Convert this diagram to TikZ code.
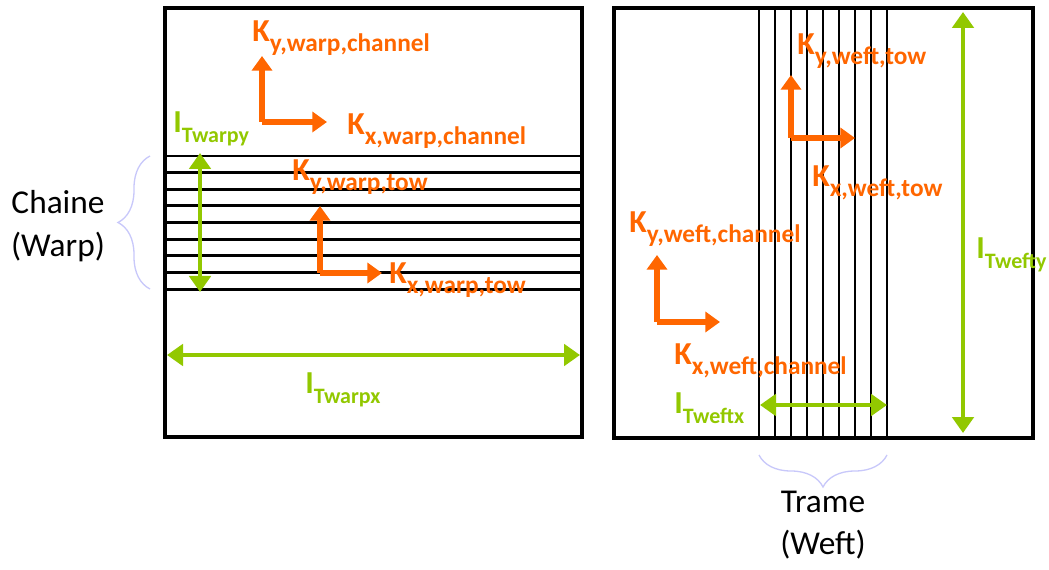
\documentclass[tikz,border=0pt]{standalone}
\usepackage{fontspec}
\setmainfont{Carlito}
\usetikzlibrary{arrows.meta,decorations.pathreplacing}

\definecolor{korange}{RGB}{255,102,0}
\definecolor{tgreen}{RGB}{146,200,0}
\definecolor{bracecol}{RGB}{200,200,250}

\newcommand{\symlab}[3][19]{{\fontsize{24}{24}\selectfont #2}\raisebox{-7.5pt}{\fontsize{#1}{#1}\selectfont #3}}

\tikzset{
  frame/.style={line width=2.4pt},
  thread/.style={line width=2.2pt},
  kaxis/.style={korange, line width=3.8pt, -{Triangle[length=11pt,width=15pt]}},
  tlen/.style={tgreen, line width=3.4pt, {Triangle[length=12pt,width=16pt]}-{Triangle[length=12pt,width=16pt]}},
  klabel/.style={text=korange, font=\bfseries, inner sep=0pt, anchor=base west},
  tlabel/.style={text=tgreen, font=\bfseries, inner sep=0pt, anchor=base west},
  plain/.style={align=center, font=\fontsize{25}{32}\selectfont},
  curly/.style={bracecol, line width=1pt, decorate, decoration={brace, amplitude=24pt}}
}

\begin{document}
\begin{tikzpicture}[x=0.75pt, y=-0.75pt]
\useasboundingbox (0,0) rectangle (1049,570);

% warp sample
\draw[frame] (165,8) rectangle (582,437);
\foreach \i in {0,...,8}
    \draw[thread] (165,{156+16.65*\i}) -- (582,{156+16.65*\i});

% weft sample
\draw[frame] (614,8) rectangle (1033,438);
\foreach \i in {0,...,8}
    \draw[thread] ({759+16*\i},8) -- ({759+16*\i},438);

% corners and tips of the permeability axes
\coordinate (wc0) at (262,122);
\coordinate (wcx) at (327,122);
\coordinate (wcy) at (262,56);
\coordinate (wt0) at (320,273);
\coordinate (wtx) at (382,273);
\coordinate (wty) at (320,206);
\coordinate (ft0) at (791,138);
\coordinate (ftx) at (855,138);
\coordinate (fty) at (791,75);
\coordinate (fc0) at (657,322);
\coordinate (fcx) at (720,322);
\coordinate (fcy) at (657,255);

\draw[kaxis] (wc0) -- (wcx);
\draw[kaxis] (wc0) -- (wcy);
\draw[kaxis] (wt0) -- (wtx);
\draw[kaxis] (wt0) -- (wty);
\draw[kaxis] (ft0) -- (ftx);
\draw[kaxis] (ft0) -- (fty);
\draw[kaxis] (fc0) -- (fcx);
\draw[kaxis] (fc0) -- (fcy);

\node[klabel] (kywc) at (252,42) {\symlab{K}{y,warp,channel}};
\node[klabel] (kxwc) at (347,135) {\symlab{K}{x,warp,channel}};
\node[klabel] (kywt) at (292,181) {\symlab{K}{y,warp,tow}};
\node[klabel] (kxwt) at (389,283) {\symlab{K}{x,warp,tow}};
\node[klabel] (kyft) at (797,55) {\symlab{K}{y,weft,tow}};
\node[klabel] (kxft) at (812,187) {\symlab{K}{x,weft,tow}};
\node[klabel] (kyfc) at (629,233) {\symlab{K}{y,weft,channel}};
\node[klabel] (kxfc) at (674,364) {\symlab{K}{x,weft,channel}};

% tow widths
\coordinate (twyA) at (200,153);
\coordinate (twyB) at (200,292);
\coordinate (twxA) at (167,355);
\coordinate (twxB) at (580,355);
\coordinate (tfxA) at (760,405);
\coordinate (tfxB) at (887,405);
\coordinate (tfyA) at (963,12);
\coordinate (tfyB) at (963,433);

\draw[tlen] (twyA) -- (twyB);
\draw[tlen] (twxA) -- (twxB);
\draw[tlen] (tfxA) -- (tfxB);
\draw[tlen] (tfyA) -- (tfyB);

\node[tlabel] (ltwy) at (173,133) {\symlab[16.5]{I}{Twarpy}};
\node[tlabel] (ltwx) at (305,393) {\symlab[16.5]{I}{Twarpx}};
\node[tlabel] (ltfx) at (674,413) {\symlab[16.5]{I}{Tweftx}};
\node[tlabel] (ltfy) at (976,258) {\symlab[16.5]{I}{Twefty}};

% yarn families
\draw[curly] (150,289) -- (150,156);
\draw[curly] (887,455) -- (759,455);
\node[plain] (chaine) at (58,226) {Chaine\\(Warp)};
\node[plain] (trame) at (823,525) {Trame\\(Weft)};

\end{tikzpicture}
\end{document}
